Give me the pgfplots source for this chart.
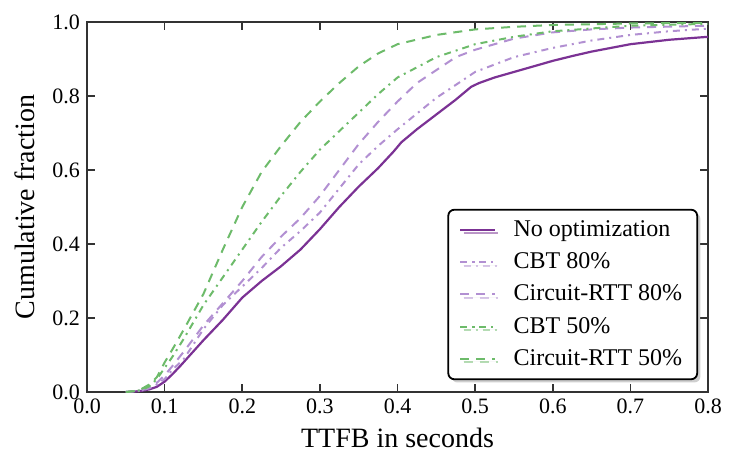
\documentclass[border=0pt]{standalone}
\usepackage{pgfplots}
\pgfplotsset{compat=1.18}
\usepackage{fontspec}
\setmainfont{Liberation Serif}
\usetikzlibrary{shadows}

\definecolor{darkpurple}{HTML}{7B3294}
\definecolor{lightpurple}{HTML}{B290D2}
\definecolor{midgreen}{HTML}{6DBB6A}
\definecolor{axisgray}{HTML}{333333}

\begin{document}
\begin{tikzpicture}
  \begin{axis}[
      scale only axis,
      width=310.5pt, height=185pt,
      xmin=0, xmax=0.8, ymin=0, ymax=1,
      xtick={0,0.1,...,0.8}, ytick={0,0.2,...,1},
      tick align=inside,
      major tick length=4pt,
      axis line style={axisgray, line width=0.9pt},
      every tick/.style={axisgray, line width=0.8pt},
      tick label style={font=\fontsize{11}{13}\selectfont},
      /pgf/number format/assume math mode=true,
      xticklabel style={/pgf/number format/.cd, fixed, fixed zerofill, precision=1},
      yticklabel style={/pgf/number format/.cd, fixed, fixed zerofill, precision=1},
      xlabel={TTFB in seconds},
      ylabel={Cumulative fraction},
      label style={font=\fontsize{14}{16}\selectfont},
      xlabel style={at={(axis description cs:0.5,-0.149)}, anchor=base},
      ylabel style={at={(axis description cs:-0.085,0.5)}, anchor=base, rotate=0},
      legend cell align=left,
      legend style={font=\fontsize{12}{13.5}\selectfont,
        at={(0.984,0.032)}, anchor=south east,
        draw=black, line width=0.9pt, rounded corners=3pt, fill=white,
        drop shadow={shadow xshift=1.6pt, shadow yshift=-1.6pt, fill=gray!75},
        inner xsep=5.5pt, inner ysep=3.5pt, row sep=2.6pt, column sep=7pt},
      every axis plot/.append style={line width=1pt},
    ]
    % No optimization
    \addplot[darkpurple, solid, line width=1.1pt] coordinates {
      (0.05,0)(0.06,0.001)(0.07,0.003)(0.08,0.007)(0.09,0.014)(0.10,0.028)
      (0.11,0.048)(0.12,0.07)(0.135,0.105)(0.15,0.14)(0.175,0.195)(0.2,0.255)
      (0.225,0.30)(0.25,0.34)(0.275,0.385)(0.3,0.44)(0.325,0.50)(0.35,0.555)
      (0.375,0.605)(0.395,0.65)(0.405,0.675)(0.425,0.71)(0.45,0.75)(0.475,0.79)
      (0.495,0.825)(0.505,0.835)(0.525,0.85)(0.55,0.865)(0.575,0.88)(0.6,0.895)
      (0.625,0.908)(0.65,0.92)(0.7,0.94)(0.75,0.952)(0.8,0.96)};
    \addlegendentry{No optimization}
    % CBT 80%
    \addplot[lightpurple, dash pattern=on 3.5pt off 2.5pt on 1pt off 2.5pt] coordinates {
      (0.05,0)(0.07,0.004)(0.08,0.01)(0.09,0.02)(0.1,0.035)(0.11,0.06)
      (0.125,0.09)(0.15,0.17)(0.175,0.235)(0.2,0.285)(0.225,0.335)(0.25,0.39)
      (0.275,0.435)(0.3,0.485)(0.325,0.55)(0.35,0.615)(0.375,0.665)(0.4,0.71)
      (0.45,0.795)(0.5,0.865)(0.55,0.905)(0.6,0.93)(0.65,0.95)(0.7,0.965)
      (0.75,0.975)(0.8,0.982)};
    \addlegendentry{CBT 80\%}
    % Circuit-RTT 80%
    \addplot[lightpurple, dash pattern=on 4.5pt off 3.5pt] coordinates {
      (0.05,0)(0.07,0.004)(0.08,0.012)(0.09,0.025)(0.1,0.045)(0.11,0.07)
      (0.125,0.11)(0.15,0.18)(0.175,0.24)(0.2,0.30)(0.225,0.365)(0.25,0.42)
      (0.275,0.47)(0.3,0.53)(0.325,0.60)(0.35,0.67)(0.375,0.73)(0.4,0.785)
      (0.425,0.835)(0.45,0.87)(0.475,0.905)(0.5,0.925)(0.55,0.955)(0.6,0.972)
      (0.65,0.98)(0.7,0.985)(0.8,0.99)};
    \addlegendentry{Circuit-RTT 80\%}
    % CBT 50%
    \addplot[midgreen, dash pattern=on 3.5pt off 2.5pt on 1pt off 2.5pt] coordinates {
      (0.05,0)(0.07,0.005)(0.08,0.015)(0.09,0.035)(0.1,0.065)(0.11,0.095)
      (0.125,0.145)(0.15,0.235)(0.175,0.31)(0.2,0.385)(0.225,0.46)(0.25,0.53)
      (0.275,0.595)(0.3,0.655)(0.325,0.705)(0.35,0.755)(0.375,0.805)(0.4,0.85)
      (0.45,0.905)(0.5,0.94)(0.55,0.96)(0.6,0.975)(0.7,0.99)(0.8,0.995)};
    \addlegendentry{CBT 50\%}
    % Circuit-RTT 50%
    \addplot[midgreen, dash pattern=on 4.5pt off 3.5pt] coordinates {
      (0.05,0)(0.06,0.002)(0.07,0.008)(0.08,0.02)(0.09,0.04)(0.1,0.08)
      (0.11,0.115)(0.125,0.17)(0.15,0.265)(0.175,0.385)(0.2,0.50)(0.225,0.595)
      (0.25,0.665)(0.275,0.73)(0.3,0.785)(0.325,0.835)(0.35,0.88)(0.375,0.915)
      (0.4,0.94)(0.45,0.965)(0.5,0.98)(0.55,0.987)(0.6,0.992)(0.7,0.996)(0.8,0.998)};
    \addlegendentry{Circuit-RTT 50\%}
  \end{axis}
  % page margins like the reference
  \path (current axis.south west) ++(-43.5pt,-31pt)
        (current axis.north east) ++(12pt,11pt);
\end{tikzpicture}
\end{document}
